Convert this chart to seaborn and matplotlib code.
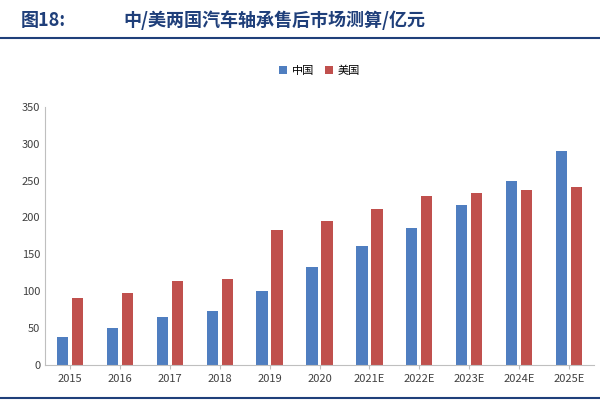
import matplotlib
matplotlib.use("Agg")
import matplotlib.pyplot as plt
import seaborn as sns
import pandas as pd

years = ["2015","2016","2017","2018","2019","2020","2021E","2022E","2023E","2024E","2025E"]
china = [38, 50, 65, 73, 100, 133, 161, 185, 217, 250, 290]
usa = [90, 98, 114, 117, 183, 195, 212, 229, 233, 237, 241]
series = ["中国", "美国"]

df = pd.DataFrame({"year": years*2, "v": china+usa, "s": [series[0]]*11+[series[1]]*11})
plt.rcParams["font.family"] = "sans-serif"
plt.rcParams["font.sans-serif"] = ["Noto Sans CJK SC", "Noto Sans CJK JP", "Noto Sans CJK TC", "DejaVu Sans"]
fig = plt.figure(figsize=(6,4), dpi=100)
ax = fig.add_axes([0.075, 0.088, 0.915, 0.645])
sns.barplot(data=df, x="year", y="v", hue="s", palette=["#4F7EC0", "#C0504D"], saturation=1,
            width=0.6, gap=0.25, ax=ax)
ax.set_ylim(0, 350)
ax.set_yticks(range(0, 351, 50))
ax.set_xlabel(""); ax.set_ylabel("")
for s in ["top", "right"]:
    ax.spines[s].set_visible(False)
ax.spines["left"].set_color("#BFBFBF"); ax.spines["bottom"].set_color("#BFBFBF")
ax.tick_params(labelsize=8, colors="#404040", length=0)
ax.tick_params(axis="x", length=3, color="#BFBFBF")
ax.legend(loc="upper center", bbox_to_anchor=(0.5, 1.2), ncol=2, frameon=False, fontsize=8,
          handlelength=0.7, handleheight=0.7, columnspacing=1.0, handletextpad=0.4)
fig.text(0.035, 0.935, "图18:", fontsize=13, fontweight="bold", color="#1F3F7A")
fig.text(0.205, 0.935, "中/美两国汽车轴承售后市场测算/亿元", fontsize=13, fontweight="bold", color="#1F3F7A")
fig.add_artist(plt.Line2D([0.0, 1.0], [0.905, 0.905], color="#1F3F7A", lw=1.5))
fig.add_artist(plt.Line2D([0.0, 1.0], [0.005, 0.005], color="#1F3F7A", lw=1.5))
fig.savefig("out.png")
